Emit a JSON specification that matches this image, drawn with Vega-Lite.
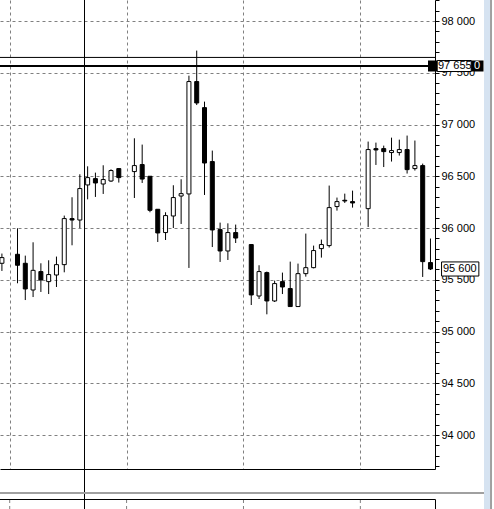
{
  "$schema": "https://vega.github.io/schema/vega-lite/v6.json",
  "autosize": {"type": "none"},
  "padding": {"left": 0, "top": 0, "right": 59, "bottom": 40},
  "width": 435,
  "height": 469,
  "background": "white",
  "config": {
    "view": {"stroke": null},
    "axis": {"title": null, "labelFont": "Liberation Sans", "labelFontSize": 11, "labelColor": "black"}
  },
  "datasets": {
    "candles": [
      {"t": -1, "o": 95659, "h": 95753, "l": 95585, "c": 95714},
      {"t": 1, "o": 95746, "h": 95997, "l": 95466, "c": 95640},
      {"t": 2, "o": 95659, "h": 95733, "l": 95304, "c": 95411},
      {"t": 3, "o": 95401, "h": 95862, "l": 95333, "c": 95591},
      {"t": 4, "o": 95579, "h": 95659, "l": 95382, "c": 95498},
      {"t": 5, "o": 95482, "h": 95688, "l": 95362, "c": 95550},
      {"t": 6, "o": 95546, "h": 95724, "l": 95430, "c": 95646},
      {"t": 7, "o": 95646, "h": 96120, "l": 95572, "c": 96091},
      {"t": 8, "o": 96091, "h": 96297, "l": 95833, "c": 96077},
      {"t": 9, "o": 96077, "h": 96519, "l": 96000, "c": 96381},
      {"t": 10, "o": 96416, "h": 96596, "l": 96277, "c": 96487},
      {"t": 11, "o": 96477, "h": 96535, "l": 96300, "c": 96435},
      {"t": 12, "o": 96425, "h": 96606, "l": 96329, "c": 96468},
      {"t": 13, "o": 96454, "h": 96567, "l": 96445, "c": 96555},
      {"t": 14, "o": 96574, "h": 96577, "l": 96439, "c": 96487},
      {"t": 16, "o": 96545, "h": 96867, "l": 96290, "c": 96603},
      {"t": 17, "o": 96613, "h": 96806, "l": 96435, "c": 96473},
      {"t": 18, "o": 96500, "h": 96500, "l": 96152, "c": 96171},
      {"t": 19, "o": 96181, "h": 96181, "l": 95865, "c": 95952},
      {"t": 20, "o": 95956, "h": 96152, "l": 95884, "c": 96120},
      {"t": 21, "o": 96116, "h": 96413, "l": 96000, "c": 96294},
      {"t": 22, "o": 96309, "h": 96471, "l": 96039, "c": 96332},
      {"t": 23, "o": 96329, "h": 97472, "l": 95614, "c": 97415},
      {"t": 24, "o": 97415, "h": 97714, "l": 97188, "c": 97208},
      {"t": 25, "o": 97163, "h": 97221, "l": 96319, "c": 96628},
      {"t": 26, "o": 96642, "h": 96748, "l": 95816, "c": 95981},
      {"t": 27, "o": 95985, "h": 96052, "l": 95672, "c": 95778},
      {"t": 28, "o": 95778, "h": 96045, "l": 95691, "c": 95956},
      {"t": 29, "o": 95956, "h": 96033, "l": 95855, "c": 95903},
      {"t": 31, "o": 95840, "h": 95840, "l": 95256, "c": 95353},
      {"t": 32, "o": 95343, "h": 95640, "l": 95314, "c": 95579},
      {"t": 33, "o": 95569, "h": 95579, "l": 95166, "c": 95295},
      {"t": 34, "o": 95295, "h": 95492, "l": 95285, "c": 95463},
      {"t": 35, "o": 95482, "h": 95569, "l": 95362, "c": 95430},
      {"t": 36, "o": 95415, "h": 95675, "l": 95241, "c": 95241},
      {"t": 37, "o": 95241, "h": 95656, "l": 95241, "c": 95559},
      {"t": 38, "o": 95559, "h": 95946, "l": 95530, "c": 95617},
      {"t": 39, "o": 95617, "h": 95830, "l": 95610, "c": 95782},
      {"t": 40, "o": 95801, "h": 95888, "l": 95714, "c": 95840},
      {"t": 41, "o": 95830, "h": 96410, "l": 95811, "c": 96197},
      {"t": 42, "o": 96207, "h": 96294, "l": 96168, "c": 96255},
      {"t": 43, "o": 96268, "h": 96332, "l": 96242, "c": 96261},
      {"t": 44, "o": 96255, "h": 96361, "l": 96197, "c": 96242},
      {"t": 46, "o": 96187, "h": 96835, "l": 96010, "c": 96758},
      {"t": 47, "o": 96767, "h": 96825, "l": 96609, "c": 96754},
      {"t": 48, "o": 96767, "h": 96796, "l": 96589, "c": 96738},
      {"t": 49, "o": 96729, "h": 96873, "l": 96642, "c": 96748},
      {"t": 50, "o": 96729, "h": 96854, "l": 96700, "c": 96758},
      {"t": 51, "o": 96758, "h": 96893, "l": 96526, "c": 96564},
      {"t": 52, "o": 96574, "h": 96845, "l": 96555, "c": 96603},
      {"t": 53, "o": 96603, "h": 96622, "l": 95527, "c": 95675},
      {"t": 54, "o": 95666, "h": 95898, "l": 95594, "c": 95604}
    ],
    "hlines": [
      {"price": 97648, "kind": "thin"},
      {"price": 97565, "kind": "thick"}
    ],
    "vline": [{"t": 9.6}],
    "timegrid": [{"t": 0}, {"t": 15}, {"t": 30}, {"t": 45}],
    "tags": [
      {"price": 97565, "text": "97 655", "kind": "line"},
      {"price": 95604, "text": "95 600", "kind": "last"}
    ]
  },
  "layer": [
    {
      "data": {"name": "candles"},
      "mark": {"type": "rule", "color": "black", "strokeWidth": 1},
      "encoding": {
        "x": {
          "field": "t", "type": "quantitative",
          "scale": {"domain": [-1.246, 54.58], "nice": false, "zero": false, "padding": 0},
          "axis": {"orient": "bottom", "domainColor": "black", "ticks": false, "labels": false,
                   "values": [0, 15, 30, 45], "tickCount": 20, "grid": true, "gridColor": "#808080", "gridDash": [3, 3], "gridWidth": 1}
        },
        "y": {
          "field": "l", "type": "quantitative",
          "scale": {"domain": [93671.5, 98202.9], "nice": false, "zero": false},
          "axis": {
            "orient": "right",
            "values": [93700,93800,93900,94000,94100,94200,94300,94400,94500,94600,94700,94800,94900,95000,95100,95200,95300,95400,95500,95600,95700,95800,95900,96000,96100,96200,96300,96400,96500,96600,96700,96800,96900,97000,97100,97200,97300,97400,97500,97600,97700,97800,97900,98000,98100,98200],
            "tickCount": 100,
            "domainColor": "black", "tickColor": "black", "tickSize": 4, "labelPadding": 2,
            "labelExpr": "datum.value % 500 === 0 ? replace(format(datum.value, ','), ',', ' ') : ''",
            "labelOverlap": false, "labelBound": false, "labelFlush": false,
            "grid": true, "gridColor": "#808080", "gridDash": [3, 3],
            "gridOpacity": {"condition": {"test": "datum.value % 500 === 0", "value": 1}, "value": 0}
          }
        },
        "y2": {"field": "h"}
      }
    },
    {
      "data": {"name": "candles"},
      "mark": {"type": "bar", "size": 4, "stroke": "black", "strokeWidth": 1},
      "encoding": {
        "x": {"field": "t", "type": "quantitative"},
        "y": {"field": "o", "type": "quantitative"},
        "y2": {"field": "c"},
        "fill": {"condition": {"test": "datum.c > datum.o", "value": "white"}, "value": "black"}
      }
    },
    {
      "data": {"name": "hlines"},
      "mark": {"type": "rule", "color": "black"},
      "encoding": {
        "y": {"field": "price", "type": "quantitative"},
        "strokeWidth": {"condition": {"test": "datum.kind === 'thick'", "value": 2}, "value": 1}
      }
    },
    {
      "data": {"name": "vline"},
      "mark": {"type": "rule", "color": "black", "strokeWidth": 1, "clip": false},
      "encoding": {
        "x": {"field": "t", "type": "quantitative"},
        "y": {"datum": 98202.9},
        "y2": {"datum": 93284.9}
      }
    },
    {
      "data": {"values": [{}]},
      "mark": {"type": "rule", "color": "#a0a0a0", "strokeWidth": 2, "clip": false},
      "encoding": {
        "x": {"datum": -1.246},
        "x2": {"datum": 60.87},
        "y": {"datum": 93439.5}
      }
    },
    {
      "data": {"values": [{}]},
      "mark": {"type": "rule", "color": "black", "strokeWidth": 1, "clip": false},
      "encoding": {
        "x": {"datum": -1.246},
        "x2": {"datum": 54.644},
        "y": {"datum": 93376.7}
      }
    },
    {
      "data": {"values": [{}]},
      "mark": {"type": "rule", "color": "black", "strokeWidth": 1, "clip": false},
      "encoding": {
        "x": {"datum": 54.644},
        "y": {"datum": 93376.7},
        "y2": {"datum": 93284.9}
      }
    },
    {
      "data": {"name": "timegrid"},
      "mark": {"type": "rule", "color": "#808080", "strokeWidth": 1, "strokeDash": [3, 3], "clip": false},
      "encoding": {
        "x": {"field": "t", "type": "quantitative"},
        "y": {"datum": 93371.9},
        "y2": {"datum": 93284.9}
      }
    },
    {
      "data": {"values": [{}]},
      "mark": {"type": "rect", "fill": "#d6e3f1", "clip": false},
      "encoding": {
        "x": {"datum": 60.87},
        "x2": {"datum": 61.64},
        "y": {"datum": 98202.9},
        "y2": {"datum": 93284.9}
      }
    },
    {
      "data": {"values": [{}]},
      "mark": {"type": "rule", "color": "#a0a0a0", "strokeWidth": 2, "clip": false},
      "encoding": {
        "x": {"datum": 61.77},
        "y": {"datum": 98202.9},
        "y2": {"datum": 93284.9}
      }
    },
    {
      "data": {"name": "tags"},
      "transform": [{"filter": "datum.kind === 'line'"}],
      "mark": {"type": "point", "shape": "M-1,-0.2L1,-0.2L1,0.2L-1,0.2Z", "size": 3080,
               "filled": true, "fill": "black", "strokeWidth": 0, "opacity": 1, "xOffset": 20.75, "clip": false},
      "encoding": {
        "x": {"datum": 54.58},
        "y": {"field": "price", "type": "quantitative"}
      }
    },
    {
      "data": {"name": "tags"},
      "transform": [{"filter": "datum.kind === 'line'"}],
      "mark": {"type": "point", "shape": "M-1,-0.3235L1,-0.3235L1,0.3235L-1,0.3235Z", "size": 1156,
               "filled": true, "fill": "white", "stroke": "black", "strokeWidth": 1, "opacity": 1, "xOffset": 19.2, "clip": false},
      "encoding": {
        "x": {"datum": 54.58},
        "y": {"field": "price", "type": "quantitative"}
      }
    },
    {
      "data": {"name": "tags"},
      "transform": [{"filter": "datum.kind === 'last'"}],
      "mark": {"type": "point", "shape": "M-1,-0.378L1,-0.378L1,0.378L-1,0.378Z", "size": 1391,
               "filled": true, "fill": "white", "stroke": "black", "strokeWidth": 1, "opacity": 1, "xOffset": 25.2, "clip": false},
      "encoding": {
        "x": {"datum": 54.58},
        "y": {"field": "price", "type": "quantitative"}
      }
    },
    {
      "data": {"name": "tags"},
      "transform": [{"filter": "datum.kind === 'line'"}],
      "mark": {"type": "text", "align": "left", "baseline": "middle", "font": "Liberation Sans", "fontSize": 11, "color": "black", "dx": 3, "clip": false},
      "encoding": {
        "x": {"datum": 54.58},
        "y": {"field": "price", "type": "quantitative"},
        "text": {"field": "text"}
      }
    },
    {
      "data": {"name": "tags"},
      "transform": [{"filter": "datum.kind === 'last'"}],
      "mark": {"type": "text", "align": "left", "baseline": "middle", "font": "Liberation Sans", "fontSize": 11, "color": "black", "dx": 8, "clip": false},
      "encoding": {
        "x": {"datum": 54.58},
        "y": {"field": "price", "type": "quantitative"},
        "text": {"field": "text"}
      }
    },
    {
      "data": {"name": "tags"},
      "transform": [{"filter": "datum.kind === 'line'"}],
      "mark": {"type": "text", "align": "left", "baseline": "middle", "font": "Liberation Sans", "fontSize": 11, "color": "white", "dx": 39, "text": "0", "clip": false},
      "encoding": {
        "x": {"datum": 54.58},
        "y": {"field": "price", "type": "quantitative"}
      }
    }
  ]
}
